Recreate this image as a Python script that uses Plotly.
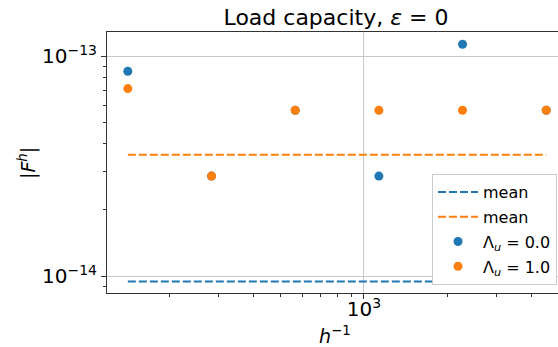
import plotly.graph_objects as go

h_inv = [141.4, 282.8, 565.7, 1131.4, 2262.7, 4525.5]
F_lam0 = [8.55e-14, 2.85e-14, 5.68e-14, 2.85e-14, 1.134e-13, 5.68e-14]
F_lam1 = [7.13e-14, 2.85e-14, 5.68e-14, 5.68e-14, 5.68e-14, 5.68e-14]
mean_lam0 = 9.46e-15
mean_lam1 = 3.56e-14
x_major = [1000]
x_major_text = ["10<sup>3</sup>"]
x_minor = [200, 300, 400, 500, 600, 700, 800, 900, 2000, 3000, 4000]
y_major = [1e-14, 1e-13]
y_major_text = ["10<sup>\u221214</sup>", "10<sup>\u221213</sup>"]
y_minor = [9e-15, 2e-14, 3e-14, 4e-14, 5e-14, 6e-14, 7e-14, 8e-14, 9e-14]

BLUE = "#1f77b4"
ORANGE = "#ff7f0e"
FONT = "DejaVu Sans"

fig = go.Figure()
fig.add_trace(go.Scatter(x=[h_inv[0], h_inv[-1]], y=[mean_lam0, mean_lam0], mode="lines",
                         line=dict(color=BLUE, width=2, dash="8px,3px"), name="mean",
                         legendgroup="a"))
fig.add_trace(go.Scatter(x=[h_inv[0], h_inv[-1]], y=[mean_lam1, mean_lam1], mode="lines",
                         line=dict(color=ORANGE, width=2, dash="8px,3px"), name="mean",
                         legendgroup="b"))
fig.add_trace(go.Scatter(x=h_inv, y=F_lam0, mode="markers",
                         marker=dict(color=BLUE, size=9), name="\u039b<sub><i>u</i></sub> = 0.0",
                         legendgroup="c"))
fig.add_trace(go.Scatter(x=h_inv, y=F_lam1, mode="markers",
                         marker=dict(color=ORANGE, size=9), name="\u039b<sub><i>u</i></sub> = 1.0",
                         legendgroup="d"))

axis_common = dict(
    type="log", showline=True, linecolor="#333333", linewidth=1,
    ticks="outside", ticklen=5, tickwidth=1, tickcolor="#333333",
    showgrid=True, gridcolor="#c8c8c8", gridwidth=1, zeroline=False,
    tickfont=dict(family=FONT, size=20, color="black"),
)

fig.update_layout(
    width=558, height=347,
    margin=dict(l=107, r=0, t=32, b=54),
    paper_bgcolor="white", plot_bgcolor="white",
    font=dict(family=FONT, size=16, color="black"),
    showlegend=True,
    title=dict(text="Load capacity, <i>\u03b5</i> = 0", x=336 / 558, xref="container", xanchor="center",
               y=1 - 17 / 347, yref="container", yanchor="middle",
               font=dict(family=FONT, size=22, color="black")),
    xaxis=dict(axis_common, range=[2.0755, 3.698], mirror=True,
               tickmode="array", tickvals=x_major, ticktext=x_major_text,
               ticklabelstandoff=-7,
               minor=dict(tickmode="array", tickvals=x_minor, ticks="outside", ticklen=3,
                          tickcolor="#333333", showgrid=False)),
    yaxis=dict(axis_common, range=[-14.077, -12.8895], mirror=False,
               tickmode="array", tickvals=y_major, ticktext=y_major_text,
               minor=dict(tickmode="array", tickvals=y_minor, ticks="outside", ticklen=3,
                          tickcolor="#333333", showgrid=False)),
    legend=dict(x=0.9978, y=0.0307, xanchor="right", yanchor="bottom",
                bgcolor="white", bordercolor="#cccccc", borderwidth=1,
                itemwidth=40, tracegroupgap=1, traceorder="grouped",
                font=dict(family=FONT, size=16, color="black")),
    annotations=[
        dict(text="<i>h</i><sup>\u22121</sup>", x=(335 - 107) / 451, y=(293 - 335) / 261,
             xref="paper", yref="paper", showarrow=False, xanchor="center", yanchor="middle",
             font=dict(family=FONT, size=19, color="black")),
        dict(text="|<i>F</i><sup><i>h</i></sup>|", x=(27 - 107) / 451, y=(293 - 163) / 261,
             xref="paper", yref="paper", showarrow=False, xanchor="center", yanchor="middle",
             textangle=-90, font=dict(family=FONT, size=19, color="black")),
    ],
)

fig.write_html("out.html")
